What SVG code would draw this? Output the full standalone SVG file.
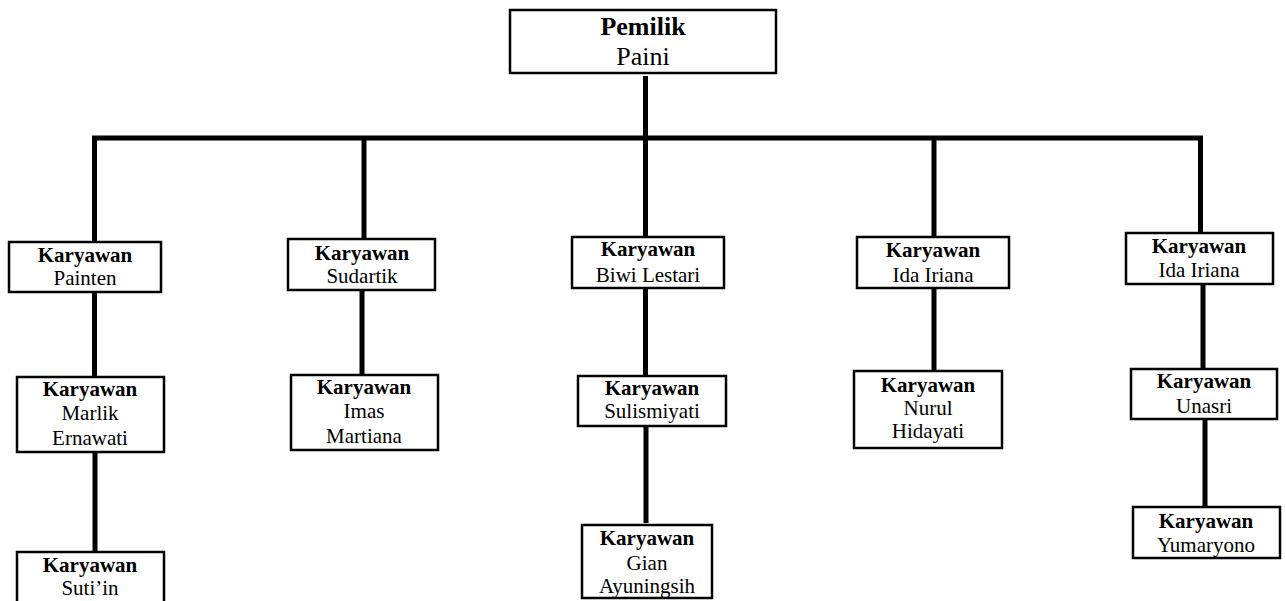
<svg xmlns="http://www.w3.org/2000/svg" width="1286" height="601" viewBox="0 0 1286 601">
<style>
.box{fill:#fff;stroke:#000;stroke-width:2.5}
.t{font-family:"Liberation Serif","Times New Roman",serif;font-size:21px;fill:#000;text-anchor:middle}
.b{font-weight:bold}
.big{font-size:26px}
.ln{stroke:#000;stroke-width:5;fill:none}
</style>
<rect width="1286" height="601" fill="#fff"/>
<g id="connectors">
<line class="ln" x1="645.5" y1="76" x2="645.5" y2="138"/>
<line class="ln" x1="92" y1="138" x2="1203" y2="138"/>
<line class="ln" x1="94.5" y1="136" x2="94.5" y2="242"/>
<line class="ln" x1="364" y1="138" x2="364" y2="239"/>
<line class="ln" x1="645.5" y1="138" x2="645.5" y2="237"/>
<line class="ln" x1="934" y1="138" x2="934" y2="237"/>
<line class="ln" x1="1200.5" y1="136" x2="1200.5" y2="233"/>
<line class="ln" x1="94.5" y1="292" x2="94.5" y2="377"/>
<line class="ln" x1="95" y1="453" x2="95" y2="552"/>
<line class="ln" x1="362" y1="290" x2="362" y2="375"/>
<line class="ln" x1="645.5" y1="288" x2="645.5" y2="376"/>
<line class="ln" x1="646" y1="426" x2="646" y2="523"/>
<line class="ln" x1="934" y1="288" x2="934" y2="371"/>
<line class="ln" x1="1203" y1="284" x2="1203" y2="370"/>
<line class="ln" x1="1205" y1="419" x2="1205" y2="507"/>
</g>
<g id="pemilik">
<rect class="box" x="510" y="10" width="266" height="63"/>
<text class="t b big" x="643" y="35">Pemilik</text>
<text class="t big" x="643" y="65">Paini</text>
</g>
<g id="painten">
<rect class="box" x="9" y="242" width="152" height="50"/>
<text class="t b" x="85" y="262">Karyawan</text>
<text class="t" x="85" y="285">Painten</text>
</g>
<g id="marlik">
<rect class="box" x="17" y="377" width="147" height="75"/>
<text class="t b" x="90" y="396">Karyawan</text>
<text class="t" x="90" y="420">Marlik</text>
<text class="t" x="90" y="445">Ernawati</text>
</g>
<g id="sutiin">
<rect class="box" x="17" y="552" width="147" height="60"/>
<text class="t b" x="90" y="572">Karyawan</text>
<text class="t" x="90" y="595">Suti’in</text>
</g>
<g id="sudartik">
<rect class="box" x="288" y="239" width="147" height="51"/>
<text class="t b" x="362" y="260">Karyawan</text>
<text class="t" x="362" y="283">Sudartik</text>
</g>
<g id="imas">
<rect class="box" x="291" y="375" width="147" height="75"/>
<text class="t b" x="364" y="394">Karyawan</text>
<text class="t" x="364" y="418">Imas</text>
<text class="t" x="364" y="443">Martiana</text>
</g>
<g id="biwi">
<rect class="box" x="572" y="237" width="152" height="51"/>
<text class="t b" x="648" y="256">Karyawan</text>
<text class="t" x="648" y="282">Biwi Lestari</text>
</g>
<g id="sulismiyati">
<rect class="box" x="578" y="376" width="148" height="50"/>
<text class="t b" x="652" y="395">Karyawan</text>
<text class="t" x="652" y="418">Sulismiyati</text>
</g>
<g id="gian">
<rect class="box" x="582" y="525" width="130" height="73"/>
<text class="t b" x="647" y="545">Karyawan</text>
<text class="t" x="647" y="570">Gian</text>
<text class="t" x="647" y="593">Ayuningsih</text>
</g>
<g id="ida1">
<rect class="box" x="857" y="237" width="152" height="51"/>
<text class="t b" x="933" y="257">Karyawan</text>
<text class="t" x="933" y="282">Ida Iriana</text>
</g>
<g id="nurul">
<rect class="box" x="854" y="371" width="148" height="77"/>
<text class="t b" x="928" y="392">Karyawan</text>
<text class="t" x="928" y="415">Nurul</text>
<text class="t" x="928" y="438">Hidayati</text>
</g>
<g id="ida2">
<rect class="box" x="1126" y="233" width="147" height="51"/>
<text class="t b" x="1199" y="253">Karyawan</text>
<text class="t" x="1199" y="277">Ida Iriana</text>
</g>
<g id="unasri">
<rect class="box" x="1131" y="369" width="146" height="50"/>
<text class="t b" x="1204" y="388">Karyawan</text>
<text class="t" x="1204" y="413">Unasri</text>
</g>
<g id="yumaryono">
<rect class="box" x="1133" y="507" width="147" height="51"/>
<text class="t b" x="1206" y="528">Karyawan</text>
<text class="t" x="1206" y="552">Yumaryono</text>
</g>
</svg>
